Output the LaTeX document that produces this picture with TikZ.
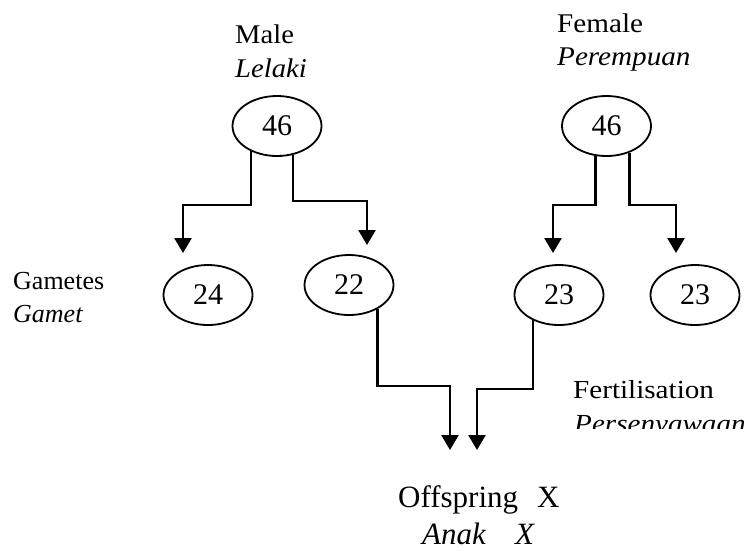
\documentclass[tikz,border=0pt]{standalone}
\usepackage{fontspec}
\usepackage{graphicx}
\setmainfont{Liberation Serif}
\usetikzlibrary{arrows.meta,shapes.geometric}
\newcommand\hsc[2]{\scalebox{#1}[1]{#2}}
\begin{document}
\begin{tikzpicture}[x=1pt,y=-1pt,
  every node/.style={font=\fontsize{27}{32}\selectfont},
  cell/.style={ellipse,draw,line width=1.8pt,minimum width=89pt,minimum height=60pt,inner sep=0pt,font=\fontsize{30}{34}\selectfont},
  lbl/.style={anchor=base west,inner sep=0pt},
  small/.style={font=\fontsize{26}{31}\selectfont},
  big/.style={font=\fontsize{31}{36}\selectfont},
  arr/.style={line width=2.6pt,-{Triangle[width=17pt,length=15pt]}}]
\useasboundingbox (0,0) rectangle (746,550);
% labels
\node[lbl] (male) at (235,43) {\hsc{1.06}{Male}};
\node[lbl] (lelaki) at (235,77) {\hsc{1.06}{\textit{Lelaki}}};
\node[lbl] (female) at (557,32) {\hsc{1.08}{Female}};
\node[lbl] (perempuan) at (557,65) {\hsc{1.08}{\textit{Perempuan}}};
\node[lbl,small] (gametes) at (13,289) {Gametes};
\node[lbl,small] (gamet) at (13,322) {\textit{Gamet}};
\node[lbl,small] (fert) at (573,398) {\hsc{1.12}{Fertilisation}};
\begin{scope}
  \clip (560,300) rectangle (746,428.5);
  \node[lbl,small] (persen) at (574,432.5) {\hsc{1.12}{\textit{Persenyawaan}}};
\end{scope}
\node[lbl,big] (offspring) at (398,507) {\makebox[139pt][l]{Offspring}X};
\node[lbl,big] (anak) at (422,544) {\textit{\makebox[93pt][l]{Anak}X}};
% cells
\node[cell] (m46) at (277,126) {46};
\node[cell] (f46) at (606.5,126) {46};
\node[cell] (g24) at (208,295) {24};
\node[cell] (g22) at (349,285) {22};
\node[cell] (g23a) at (559,295) {23};
\node[cell] (g23b) at (695,295) {23};
% arrow ends
\coordinate (t1) at (183,253);
\coordinate (t2) at (367,245);
\coordinate (t3) at (553,253);
\coordinate (t4) at (676,253);
\coordinate (t5) at (450,450);
\coordinate (t6) at (477,450);
% connectors
\draw[arr] (m46.224.8) |- (183,205) -- (t1);
\draw[arr] (m46.299.7) |- (367,201) -- (t2);
\draw[arr] (f46.250.2) |- (553,205) -- (t3);
\draw[arr] (f46.311) |- (676,205) -- (t4);
\draw[arr] (g22.320.2) |- (450,386) -- (t5);
\draw[arr] (g23a.224.8) |- (477,389) -- (t6);
\end{tikzpicture}
\end{document}
